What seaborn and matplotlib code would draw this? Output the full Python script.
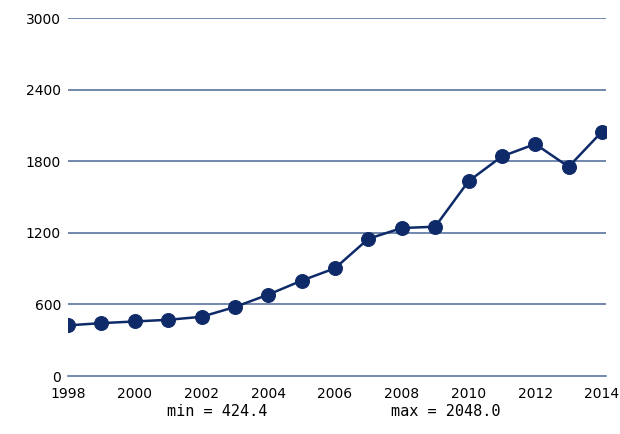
import matplotlib
matplotlib.use("Agg")
import matplotlib.pyplot as plt
import seaborn as sns
import pandas as pd

years = list(range(1998, 2015))
values = [424.4, 443, 457, 471, 496, 578, 682, 799, 903, 1150, 1240, 1251,
          1632, 1840, 1944, 1753, 2048.0]
y_ticks = [0, 600, 1200, 1800, 2400, 3000]
x_ticks = [1998, 2000, 2002, 2004, 2006, 2008, 2010, 2012, 2014]
min_label = "min = 424.4"
max_label = "max = 2048.0"

df = pd.DataFrame({"year": years, "value": values})

sns.set_theme(style="white")
plt.rcParams["font.family"] = ["DejaVu Sans"]

fig = plt.figure(figsize=(6.2, 4.34), dpi=100)
ax = fig.add_axes([68 / 620, 1 - 376 / 434, (606 - 68) / 620, (376 - 18) / 434])

grid_color = "#4a6796"
for yt in y_ticks[1:]:
    ax.axhline(yt, color=grid_color, lw=1.1, zorder=1)

navy = "#0f2a68"
sns.lineplot(data=df, x="year", y="value", ax=ax, color=navy, lw=1.8,
             marker="o", markersize=10, markeredgecolor=navy,
             markerfacecolor=navy, zorder=3)

ax.set_xlim(1998, 2014 + 4 / 33.4)
ax.set_ylim(0, 3000)
ax.set_xticks(x_ticks)
ax.set_yticks(y_ticks)
ax.set_xlabel("")
ax.set_ylabel("")

for s in ["top", "right", "left"]:
    ax.spines[s].set_visible(False)
ax.spines["bottom"].set_color(grid_color)
ax.spines["bottom"].set_linewidth(1.1)
ax.tick_params(axis="x", direction="out", length=5, width=1.1, color=grid_color,
               labelsize=10, labelcolor="black", pad=3)
ax.tick_params(axis="y", length=0, labelsize=10, labelcolor="black", pad=5)

fig.text(217 / 620, 1 - 412 / 434, min_label, ha="center", va="center",
         fontsize=11, family="DejaVu Sans Mono", color="black")
fig.text(446 / 620, 1 - 412 / 434, max_label, ha="center", va="center",
         fontsize=11, family="DejaVu Sans Mono", color="black")

fig.savefig("out.png", dpi=100, facecolor="white")
